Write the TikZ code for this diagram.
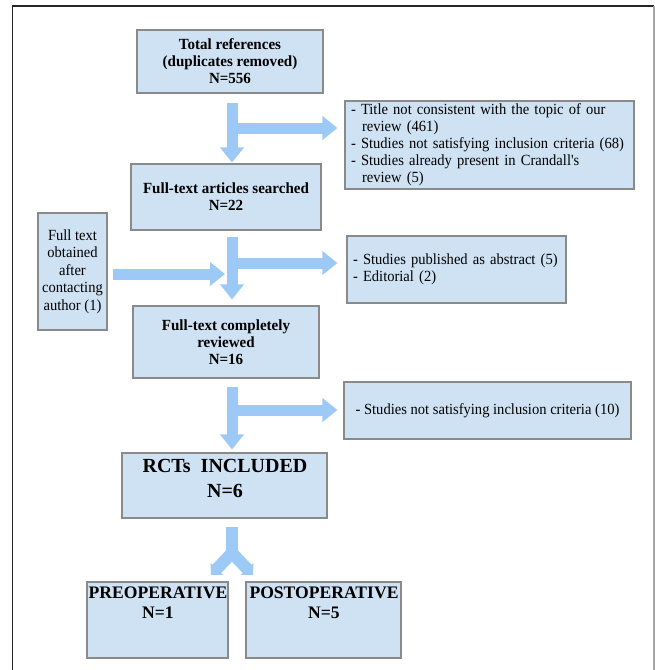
\documentclass[tikz,border=0pt]{standalone}
\usepackage{fontspec}
\setmainfont{Liberation Serif}
\newfontfamily\cndr[FakeStretch=0.94]{Liberation Serif}
\newfontfamily\cndb[FakeStretch=0.97]{Liberation Serif}
\usetikzlibrary{arrows.meta}
\definecolor{boxfill}{HTML}{CFE2F3}
\definecolor{boxline}{HTML}{8A8A8A}
\definecolor{arrowc}{HTML}{9CC9F5}
\begin{document}
\begin{tikzpicture}[x=1pt,y=-1pt,
  box/.style={draw=boxline, fill=boxfill, line width=1.1pt, inner sep=0pt, align=center},
  bt/.style={font=\cndb\fontsize{15.5}{17}\selectfont\bfseries},
  rt/.style={font=\cndr\fontsize{15.5}{17}\selectfont, inner xsep=6pt},
  flow/.style={draw=arrowc, line width=11pt, -{Triangle[width=23pt,length=15pt]}},
  splitline/.style={draw=arrowc, line width=12pt},
]
\useasboundingbox (0,0) rectangle (655,670);
\fill[white] (0,0) rectangle (655,670);
% frame
\draw[black!85, line width=1.4pt] (12.5,670) -- (12.5,6) -- (654,6);
\draw[black!35, line width=1.2pt] (654,6) -- (654,670);

% main column
\node[box, bt, minimum width=186pt, minimum height=63pt] (b1) at (230,61.5)
  {Total references\\(duplicates removed)\\N=556};
\node[box, bt, minimum width=190pt, minimum height=66pt] (b2) at (226,197)
  {Full-text articles searched\\N=22};
\node[box, bt, minimum width=186pt, minimum height=72pt] (b3) at (226,342)
  {Full-text completely\\reviewed\\N=16};
\node[box, minimum width=205pt, minimum height=65pt] (b4) at (224.5,485.5) {};
\node[font=\fontsize{20}{25}\selectfont\bfseries, align=center, inner sep=0pt] (b4t) at (225,478)
  {RCTs\ \ INCLUDED\\N=6};
\node[box, minimum width=141pt, minimum height=76pt] (pre) at (157.5,620) {};
\node[font=\fontsize{17.6}{20}\selectfont\bfseries, align=center, inner sep=0pt] (pret) at (158,603)
  {PREOPERATIVE\\N=1};
\node[box, minimum width=155pt, minimum height=76pt] (post) at (323.5,620) {};
\node[font=\fontsize{17.6}{20}\selectfont\bfseries, align=center, inner sep=0pt] (postt) at (324,603)
  {POSTOPERATIVE\\N=5};

% left box
\node[box, font=\cndr\fontsize{15.5}{17.5}\selectfont, minimum width=69pt, minimum height=117pt, inner xsep=2pt] (lb) at (72.5,271.5)
  {Full text\\obtained\\after\\contacting\\author (1)};

% right boxes
\node[box, rt, align=left, text width=277pt, minimum height=88pt] (rb1) at (489.5,145)
  {- Title not consistent with the topic of our\\
   \hspace*{11pt}review (461)\\
   - Studies not satisfying inclusion criteria (68)\\
   - Studies already present in Crandall's\\
   \hspace*{11pt}review (5)};
\node[box, rt, align=left, text width=207pt, minimum height=67pt] (rb2) at (456.5,269.5)
  {- Studies published as abstract (5)\\- Editorial (2)};
\node[box, rt, align=center, minimum width=287pt, minimum height=57pt] (rb3) at (487.5,410.5)
  {- Studies not satisfying inclusion criteria (10)};

% arrows stage 1
\coordinate (c1) at (232,103);
\coordinate (c1b) at (232,128);
\draw[flow, shorten >=1pt] (c1) -- (c1 |- b2.north);
\draw[flow, shorten >=7pt] (c1b) -- (c1b -| rb1.west);

% arrows stage 2
\coordinate (c2) at (232,237);
\coordinate (c2b) at (232,263);
\coordinate (c2l) at (225,274);
\draw[flow, shorten >=6pt] (c2) -- (c2 |- b3.north);
\draw[flow, shorten >=9pt] (c2b) -- (c2b -| rb2.west);
\draw[flow, shorten <=5pt] (lb.east |- c2l) -- (c2l);

% arrows stage 3
\coordinate (c3) at (232,387);
\coordinate (c3b) at (232,410);
\draw[flow, shorten >=3pt] (c3) -- (c3 |- b4.north);
\draw[flow, shorten >=6pt] (c3b) -- (c3b -| rb3.west);

% split arrow
\coordinate (s0) at (232,527);
\coordinate (s1) at (232,553);
\coordinate (s2) at (232,557);
\coordinate (sl) at (211,575);
\coordinate (sr) at (253,575);
\draw[splitline] (s0) -- (s2);
\draw[splitline, -{Triangle[angle=90:12pt]}] (s1) -- (sl);
\draw[splitline, -{Triangle[angle=90:12pt]}] (s1) -- (sr);
\end{tikzpicture}
\end{document}
